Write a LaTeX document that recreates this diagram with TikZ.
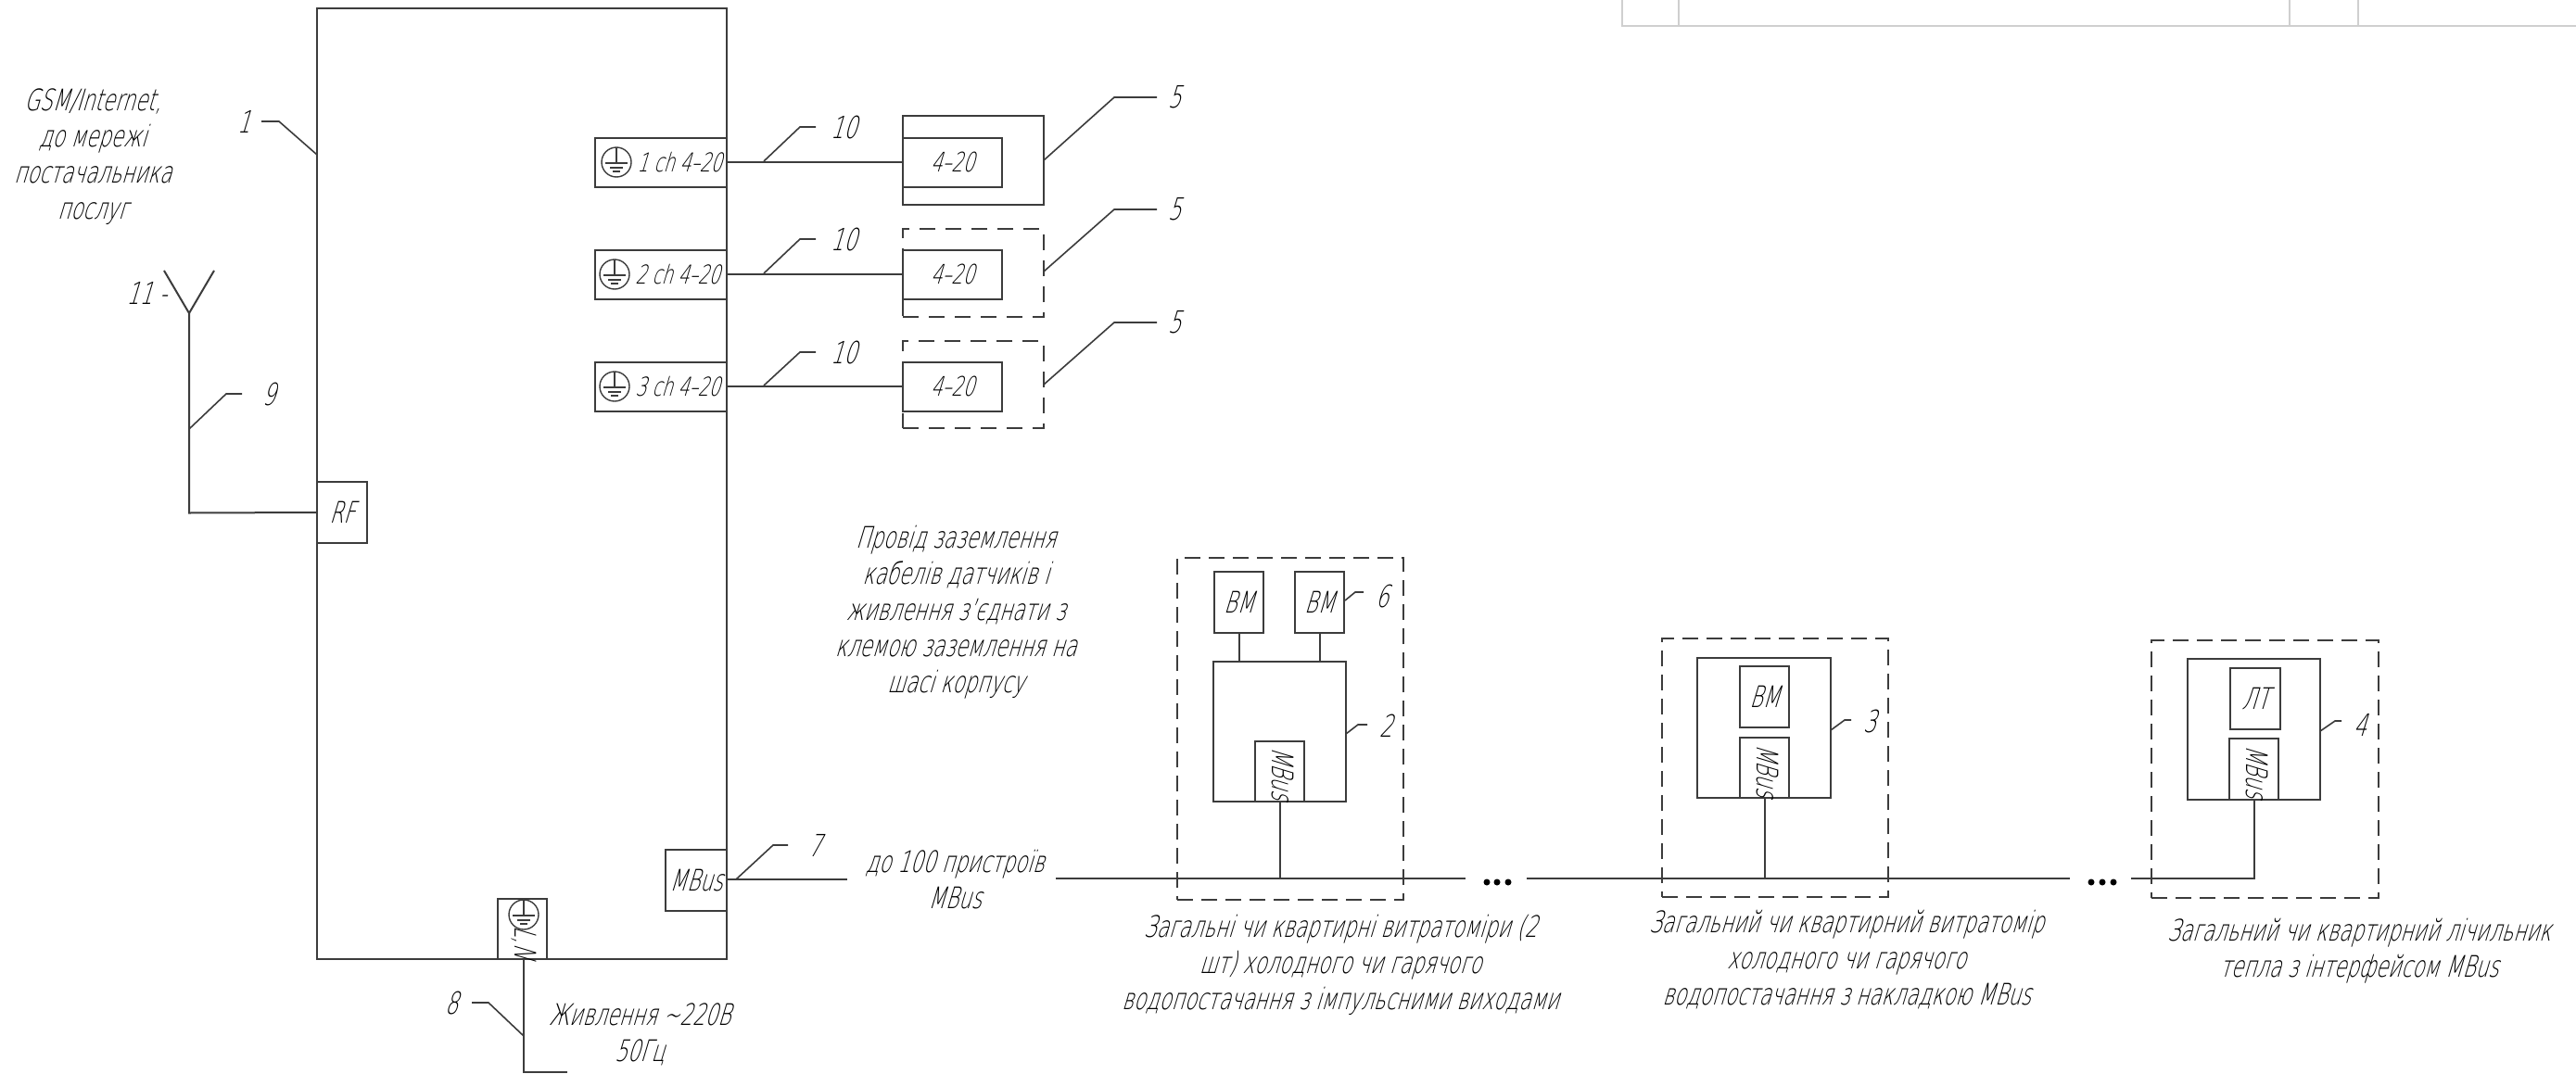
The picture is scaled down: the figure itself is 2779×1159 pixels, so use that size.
\documentclass[tikz,border=0pt]{standalone}
\usepackage{fontspec}
\setmainfont[FakeSlant=.3,FakeStretch=.67]{DejaVu Sans ExtraLight}
\definecolor{inkgray}{HTML}{3C3C3C}
\definecolor{tablegray}{HTML}{CFCFCF}
\tikzset{
	wire/.style={draw=inkgray,line width=2.4pt},
	leader/.style={draw=inkgray,line width=1.6pt},
	block/.style={draw=inkgray,line width=2pt,inner sep=0pt,outer sep=0pt,font=\fontsize{32}{32}\selectfont,text=black},
	frame/.style={draw=inkgray,inner sep=0pt,line width=2.6pt,dash pattern=on 17pt off 11pt},
	thinframe/.style={draw=inkgray,inner sep=0pt,line width=2pt,dash pattern=on 17pt off 9pt},
	num/.style={inner sep=0pt,font=\fontsize{33}{33}\selectfont,text=black},
	note/.style={inner sep=0pt,align=center,font=\fontsize{32}{39}\selectfont,text=black},
	vtext/.style={inner sep=0pt,rotate=-90,font=\fontsize{32}{32}\selectfont,text=black},
	busdot/.style={circle,fill=black,inner sep=0pt,minimum size=7pt},
	earth/.pic={
		\draw[leader,line width=1.4pt] (0,0) circle (16);
		\draw[leader,line width=1.4pt] (0,-16) -- (0,1) (-12,1) -- (12,1) (-7,6) -- (7,6) (-4,10) -- (4,10);
	}
}
\begin{document}
\begin{tikzpicture}[x=1pt,y=-1pt]
	\useasboundingbox (0,0) rectangle (2779,1159);

	\draw[tablegray,line width=2pt] (1750,0) -- (1750,28) -- (2779,28);
	\foreach \x in {1811,2470,2544}
		\draw[tablegray,line width=1.5pt] (\x,0) -- (\x,28);

	\node[block,minimum width=442,minimum height=1026,line width=2.4pt] (main) at (563,522) {};

	\node[block,minimum width=54,minimum height=66] (rf) at (369,553) {RF};
	\node[block,minimum width=66,minimum height=66] (mbus) at (751,950) {MBus};
	\node[block,minimum width=53,minimum height=65] (pwr) at (563.5,1002.5) {};
	\node[vtext] (pwrtxt) at (565,1017) {L,N};
	\pic at (565,987) {earth};

	\foreach \i/\y/\cx/\tx in {1/175/665/733,2/296/663/731,3/417/663/731}{
		\node[block,minimum width=142,minimum height=53] (ch\i) at (713,\y) {};
		\pic at (\cx,\y) {earth};
		\node[inner sep=0pt,font=\fontsize{28}{28}\selectfont] (chtxt\i) at (\tx,\y) {\i\ ch 4–20};
		\node[block,font=\fontsize{29}{29}\selectfont,minimum width=107,minimum height=53] (sens\i) at (1027.5,\y) {4–20};
		\draw[wire] (ch\i.east) -- (sens\i.west);
	}
	\node[draw=inkgray,line width=2.6pt,inner sep=0pt,minimum width=152,minimum height=96] (box1) at (1050,173) {};
	\node[frame,minimum width=152,minimum height=95] (box2) at (1050,294.5) {};
	\node[frame,minimum width=152,minimum height=94] (box3) at (1050,415) {};

	\coordinate (ant) at (204,338);
	\coordinate (antl) at (177,292);
	\coordinate (antr) at (231,292);
	\coordinate (antb) at (204,553.5);
	\draw[wire,line width=2pt] (antl) -- (ant) -- (antr);
	\draw[wire,line width=2pt] (ant) -- (antb) -- (rf.west);
	\node[num] (n11) at (158,316) {11 -};

	\node[note] (gsm) at (100,169) {GSM/Internet,\\до мережі\\постачальника\\послуг};

	\coordinate (pwrk) at (565,1157);
	\coordinate (pwre) at (612,1157);
	\draw[wire] (pwr.south) ++(1.5,0) coordinate (pwrs) -- (pwrk) -- (pwre);
	\node[note] (pwrnote) at (690,1116.5) {Живлення \textasciitilde 220В\\50Гц};

	\coordinate (busa) at (914,949);
	\draw[wire] (mbus.east) ++(0,-1) coordinate (busz) -- (busa);
	\node[note] (busnote) at (1030,949) {до 100 пристроїв\\MBus};

	\node[note] (gndnote) at (1031,660.5) {Провід заземлення\\кабелів датчиків і\\живлення з'єднати з\\клемою заземлення на\\шасі корпусу};

	\node[block,minimum width=143,minimum height=151] (met2) at (1380.5,789.5) {};
	\node[block,minimum width=53,minimum height=66] (vm1) at (1336.5,650) {ВМ};
	\node[block,minimum width=53,minimum height=66] (vm2) at (1423.5,650) {ВМ};
	\node[block,minimum width=53,minimum height=65] (mb2) at (1380.5,832.5) {};
	\node[vtext] (mbtxt2) at (1384,835) {MBus};
	\draw[wire,line width=2pt] (vm1.south) -- (vm1.south |- met2.north);
	\draw[wire,line width=2pt] (vm2.south) -- (vm2.south |- met2.north);
	\node[thinframe,minimum width=244,minimum height=369] (box6) at (1392,786.5) {};

	\node[block,minimum width=144,minimum height=151] (met3) at (1903,785.5) {};
	\node[block,minimum width=53,minimum height=66] (vm3) at (1903.5,752) {ВМ};
	\node[block,minimum width=53,minimum height=65] (mb3) at (1903.5,828.5) {};
	\node[vtext] (mbtxt3) at (1907,832) {MBus};
	\node[thinframe,minimum width=244,minimum height=279] (box7) at (1915,828.5) {};

	\node[block,minimum width=143,minimum height=152] (met4) at (2431.5,787) {};
	\node[block,minimum width=54,minimum height=66] (lt) at (2433,754) {ЛТ};
	\node[block,minimum width=53,minimum height=66] (mb4) at (2431.5,830) {};
	\node[vtext] (mbtxt4) at (2435,833) {MBus};
	\node[thinframe,minimum width=245,minimum height=278] (box8) at (2443.5,830) {};

	\coordinate (bus1s) at (1139,948);
	\coordinate (bus1e) at (1581,948);
	\coordinate (bus2s) at (1647,948);
	\coordinate (bus2e) at (2233,948);
	\coordinate (bus3s) at (2299,948);
	\coordinate (bus3e) at (2432,948);
	\draw[wire] (bus1s) -- (bus1e);
	\draw[wire] (bus2s) -- (bus2e);
	\draw[wire] (bus3s) -- (bus3e) -- (mb4.south -| bus3e);
	\draw[wire,line width=2pt] (mb2.south) -- (mb2.south |- bus1s);
	\draw[wire,line width=2pt] (mb3.south) -- (mb3.south |- bus2s);
	\foreach \x in {1604,1615,1627,2256,2268,2280}
		\node[busdot] (dot\x) at (\x,952) {};

	\node[note] (text2) at (1446,1041) {Загальні чи квартирні витратоміри (2\\шт) холодного чи гарячого\\водопостачання з імпульсними виходами};
	\node[note] (text3) at (1992,1036) {Загальний чи квартирний витратомір\\холодного чи гарячого\\водопостачання з накладкою MBus};
	\node[note] (text4) at (2545,1026) {Загальний чи квартирний лічильник\\тепла з інтерфейсом MBus};

	\foreach \id/\txt/\ax/\ay/\bx/\by/\cx/\tx/\ty in {
		1/1/342/167/301/131/282/263/131,
		9/9/204/463/244/425/261/290/425,
		a/10/824/174/863/137/880/910/137,
		b/10/824/295/863/258/880/910/258,
		c/10/824/416/863/380/880/910/380,
		d/5/1126/173/1202/105/1248/1267/105,
		e/5/1126/293/1202/226/1248/1267/226,
		f/5/1126/415/1202/348/1248/1267/348,
		7/7/794/949/834/912/850/879/912,
		8/8/565/1118/527/1082/509/487/1082,
		6/6/1451/648/1462/639/1471/1491/643,
		2/2/1452/792/1465/782/1475/1495/783,
		3/3/1975/788/1990/777/1997/2017/778,
		4/4/2503/789/2519/778/2526/2546/782}{
		\coordinate (lead\id a) at (\ax,\ay);
		\coordinate (lead\id b) at (\bx,\by);
		\coordinate (lead\id c) at (\cx,\by);
		\node[num] (num\id) at (\tx,\ty) {\txt};
		\draw[leader] (lead\id a) -- (lead\id b) -- (lead\id c);
	}
\end{tikzpicture}
\end{document}
